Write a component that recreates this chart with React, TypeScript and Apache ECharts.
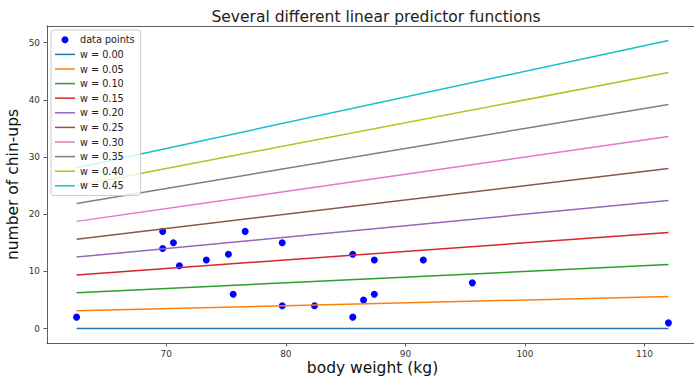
import React, { useEffect, useRef } from "react";
import * as echarts from "echarts";

const bodyWeight = [62.5, 69.7, 69.7, 70.6, 71.1, 73.35, 75.2, 75.6, 76.6, 79.7, 79.7, 82.4, 85.6, 85.6, 86.5, 87.4, 87.4, 91.5, 95.6, 112];
const chinUps = [2, 17, 14, 15, 11, 12, 13, 6, 17, 15, 4, 4, 13, 2, 5, 12, 6, 12, 8, 1];
const weights = [0.0, 0.05, 0.1, 0.15, 0.2, 0.25, 0.3, 0.35, 0.4, 0.45];
const lineColors = ["#1f77b4", "#ff7f0e", "#2ca02c", "#d62728", "#9467bd", "#8c564b", "#e377c2", "#7f7f7f", "#bcbd22", "#17becf"];
const xTicks = [70, 80, 90, 100, 110];
const yTicks = [0, 10, 20, 30, 40, 50];

const FONT = "DejaVu Sans";
const LINE_ICON = "path://M0,0h20v1.5h-20z";
const X_MIN = 60.025;
const X_MAX = 114.475;

export default function App() {
  const ref = useRef<HTMLDivElement>(null);
  useEffect(() => {
    document.body.style.margin = "0";
    document.documentElement.style.overflow = "hidden";
    document.body.style.overflow = "hidden";
    const chart = echarts.init(ref.current!, null, { renderer: "svg" });
    const xMin = Math.min(...bodyWeight);
    const xMax = Math.max(...bodyWeight);
    const lineSeries = weights.map((w, i) => ({
      type: "line",
      name: "w = " + w.toFixed(2),
      data: [
        [xMin, w * xMin],
        [xMax, w * xMax],
      ],
      symbol: "none",
      lineStyle: { color: lineColors[i], width: 1.5 },
      itemStyle: { color: lineColors[i] },
      z: 2,
    }));
    chart.setOption({
      animation: false,
      backgroundColor: "#fff",
      textStyle: { fontFamily: FONT },
      title: {
        text: "Several different linear predictor functions",
        left: 371,
        textAlign: "center",
        top: 4,
        textStyle: { fontFamily: FONT, fontSize: 15.5, fontWeight: "normal", color: "#222" },
      },
      grid: {
        left: 47,
        top: 26,
        width: 651,
        height: 317,
        show: false,
        outerBoundsMode: "none",
        containLabel: false,
      },
      legend: {
        orient: "vertical",
        left: 51,
        top: 30,
        padding: [4, 6, 4, 4],
        backgroundColor: "rgba(255,255,255,0.8)",
        borderColor: "#ccc",
        borderWidth: 1,
        borderRadius: 3,
        itemWidth: 20,
        itemHeight: 7,
        itemGap: 3,
        textStyle: { fontFamily: FONT, fontSize: 9.7, color: "#222", lineHeight: 11.6 },
        data: [
          { name: "data points", icon: "circle" },
          ...weights.map((w) => ({ name: "w = " + w.toFixed(2), icon: LINE_ICON })),
        ],
      },
      xAxis: [
        {
          type: "value",
          min: X_MIN,
          max: X_MAX,
          name: "body weight (kg)",
          nameLocation: "middle",
          nameGap: 16.5,
          nameMoveOverlap: false,
          nameTextStyle: { fontFamily: FONT, fontSize: 15.5, color: "#111", verticalAlign: "top", lineHeight: 16 },
          axisLine: { show: true, onZero: false, lineStyle: { color: "#333", width: 0.8 } },
          axisTick: { show: true, length: 3.5, customValues: xTicks, lineStyle: { color: "#333", width: 0.8 } },
          axisLabel: { customValues: xTicks, fontFamily: FONT, fontSize: 8.9, color: "#333", margin: 6 },
          splitLine: { show: false },
        },
        {
          type: "value",
          position: "top",
          min: X_MIN,
          max: X_MAX,
          axisLine: { show: true, onZero: false, lineStyle: { color: "#333", width: 0.8 } },
          axisTick: { show: false },
          axisLabel: { show: false },
          splitLine: { show: false },
        },
      ],
      yAxis: {
        type: "value",
        min: -2.52,
        max: 52.92,
        name: "number of chin-ups",
        nameLocation: "middle",
        nameRotate: 90,
        nameGap: 26,
        nameMoveOverlap: false,
        nameTextStyle: { fontFamily: FONT, fontSize: 15.5, color: "#111" },
        axisLine: { show: true, onZero: false, lineStyle: { color: "#333", width: 0.8 } },
        axisTick: { show: true, length: 3.5, customValues: yTicks, lineStyle: { color: "#333", width: 0.8 } },
        axisLabel: { customValues: yTicks, fontFamily: FONT, fontSize: 8.9, color: "#333", margin: 7 },
        splitLine: { show: false },
      },
      series: [
        {
          type: "scatter",
          name: "data points",
          data: bodyWeight.map((x, i) => [x, chinUps[i]]),
          symbol: "circle",
          symbolSize: 7,
          itemStyle: { color: "#0000ff", opacity: 1 },
          z: 1,
        },
        ...lineSeries,
      ],
    });
    return () => chart.dispose();
  }, []);
  return <div ref={ref} style={{ width: 704, height: 378 }} />;
}
